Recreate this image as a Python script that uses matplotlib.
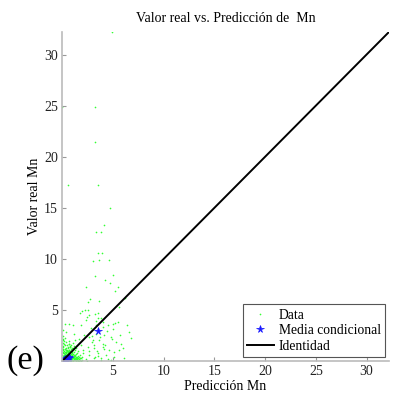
import matplotlib
matplotlib.use("Agg")
import matplotlib.pyplot as plt

plt.rcParams['font.family'] = ['Liberation Serif', 'DejaVu Serif']

# Observed Mn values versus predictions (x = prediction, y = real value)
outlier_x = [4.9, 0.0, 3.26, 3.26, 0.56, 3.5, 4.74, 4.15, 3.36, 3.85, 3.52, 3.92,
             3.03, 3.65, 4.57, 4.97, 4.24, 4.67, 3.26, 2.34, 5.46, 5.23, 2.76, 2.53,
             3.65, 5.56, 6.2, 3.26, 2.27, 1.94, 2.43, 3.58, 3.36, 3.98, 5.23, 6.38]
outlier_y = [32.2, 24.9, 24.9, 21.4, 17.2, 17.2, 15.0, 13.3, 12.6, 12.6, 10.6, 10.55,
             9.8, 9.9, 9.9, 8.4, 7.9, 7.6, 8.3, 7.3, 7.3, 6.9, 6.1, 5.8,
             5.9, 5.3, 6.2, 4.6, 5.0, 4.9, 4.3, 4.2, 3.95, 3.8, 3.7, 3.5]

mid_x = [3.49, 3.82, 3.32, 4.47, 5.46, 6.6, 4.15, 4.8, 3.65, 5.3, 5.8, 3.98, 4.64,
         5.13, 3.49, 4.3, 5.63, 6.1, 3.82, 4.8, 3.32, 4.4, 4.97, 3.98, 3.16,
         1.71, 2.53, 2.69, 2.37, 0.23, 0.72, 1.05, 1.88, 0.39, 1.21, 2.2, 2.69,
         1.65, 3.03, 0.07, 0.72, 1.88, 2.53, 3.09, 1.38, 2.04, 2.69, 3.19, 1.71,
         2.37, 2.9, 3.7, 4.1, 4.9, 5.7, 2.6, 3.1, 4.5, 5.1, 2.8, 3.4, 4.0, 6.0,
         2.1, 2.45, 3.55, 4.25, 5.0, 2.95, 3.85, 1.55, 6.75]
mid_y = [4.7, 4.2, 3.5, 3.5, 3.85, 2.9, 2.55, 2.4, 2.06, 1.9, 1.7, 1.4, 1.08,
         0.9, 0.75, 0.6, 1.08, 0.26, 0.1, 0.1, 2.7, 2.97, 3.1, 1.7, 1.57,
         4.7, 5.0, 4.5, 4.0, 3.6, 3.6, 3.5, 3.5, 2.9, 2.7, 2.55, 2.4,
         2.2, 2.1, 2.06, 1.7, 1.57, 1.4, 1.25, 1.25, 0.75, 0.59, 0.42, 0.26,
         0.17, 1.85, 2.35, 1.2, 2.15, 2.6, 0.95, 0.3, 0.2, 0.45, 3.2, 1.0, 3.3, 1.3,
         1.1, 0.05, 0.5, 1.6, 3.6, 2.5, 0.35, 0.05, 2.3]

dense_x = [0.02, 0.04, 0.06, 0.08, 0.1, 0.12, 0.14, 0.16, 0.18, 0.2, 0.22, 0.24,
           0.26, 0.28, 0.3, 0.32, 0.34, 0.36, 0.38, 0.4, 0.42, 0.44, 0.46, 0.48,
           0.5, 0.52, 0.54, 0.56, 0.58, 0.6, 0.62, 0.64, 0.66, 0.68, 0.7, 0.72,
           0.74, 0.76, 0.78, 0.8, 0.82, 0.84, 0.86, 0.88, 0.9, 0.92, 0.94, 0.96,
           0.98, 1.0, 1.03, 1.06, 1.09, 1.12, 1.15, 1.18, 1.21, 1.24, 1.27, 1.3,
           1.33, 1.36, 1.4, 1.44, 1.48, 1.52, 1.56, 1.6, 1.65, 1.7, 1.75, 1.8,
           1.85, 1.9, 1.95, 2.0,
           0.03, 0.05, 0.07, 0.04, 0.09, 0.06, 0.11, 0.08, 0.15, 0.13, 0.2, 0.18,
           0.25, 0.22, 0.3, 0.35, 0.28, 0.4, 0.45, 0.5, 0.55, 0.65, 0.7, 0.8,
           0.9, 1.0, 1.1, 1.2, 1.25,
           0.1, 0.2, 0.3, 0.4, 0.5, 0.6, 0.7, 0.8, 0.9, 1.0, 1.1, 1.2, 1.3, 1.4,
           1.5, 1.6, 1.7, 0.15, 0.25, 0.35, 0.45, 0.55, 0.65, 0.75, 0.85, 0.95,
           1.05, 1.15, 1.25, 1.35, 1.45, 1.55,
           0.05, 0.13, 0.21, 0.29, 0.37, 0.43, 0.51, 0.59, 0.67, 0.73, 0.81, 0.89,
           0.97, 1.07, 1.17, 1.28, 1.38, 1.49, 0.09, 0.19, 0.27, 0.33, 0.41, 0.49,
           0.57, 0.63, 0.71, 0.79, 0.87, 0.93, 1.01, 1.13, 0.12, 0.23, 0.31, 0.39,
           0.47, 0.53, 0.61, 0.69, 0.77, 0.83, 0.14, 0.17, 0.24, 0.36, 0.44, 0.58]
dense_y = [0.05, 0.12, 0.02, 0.2, 0.08, 0.3, 0.15, 0.04, 0.42, 0.22, 0.1, 0.55,
           0.33, 0.06, 0.7, 0.25, 0.45, 0.12, 0.9, 0.35, 0.6, 0.05, 0.28, 1.1,
           0.48, 0.18, 0.75, 0.38, 0.08, 1.3, 0.55, 0.22, 0.95, 0.42, 0.12, 0.68,
           1.5, 0.3, 0.85, 0.05, 0.5, 1.15, 0.2, 0.7, 0.38, 1.0, 0.1, 0.6,
           0.28, 0.85, 0.45, 0.15, 1.25, 0.6, 0.32, 0.9, 0.08, 0.5, 0.22, 1.05,
           0.7, 0.4, 0.12, 0.8, 0.3, 0.55, 0.05, 0.95, 0.2, 0.45, 0.1, 0.65,
           0.3, 0.05, 0.4, 0.15,
           0.6, 0.9, 1.2, 1.5, 1.8, 2.2, 2.5, 3.0, 1.0, 1.4, 1.7, 2.0,
           1.2, 0.8, 1.55, 1.9, 2.3, 1.25, 0.95, 1.6, 1.35, 1.7, 1.95, 1.4,
           1.6, 1.3, 1.75, 1.45, 2.1,
           0.02, 0.03, 0.02, 0.15, 0.08, 0.02, 0.25, 0.18, 0.03, 0.1, 0.02, 0.28,
           0.15, 0.02, 0.2, 0.1, 0.02, 0.35, 0.18, 0.3, 0.4, 0.25, 0.38, 0.55,
           0.35, 0.15, 0.3, 0.18, 0.35, 0.25, 0.45, 0.3,
           0.4, 0.5, 0.65, 0.15, 0.85, 0.2, 0.95, 0.3, 0.8, 0.5, 0.62, 0.12,
           0.52, 0.72, 0.48, 0.62, 0.35, 0.12, 0.75, 0.62, 0.48, 1.05, 0.78, 0.65,
           0.48, 1.12, 0.58, 0.95, 0.25, 0.82, 0.65, 0.4, 1.05, 0.85, 1.2, 0.55,
           0.72, 0.95, 0.88, 1.1, 1.35, 0.72, 0.25, 0.52, 0.68, 0.08, 0.15, 0.6]

# Conditional mean of the real value per prediction bin
mean_x = [0.02, 0.06, 0.1, 0.15, 0.2, 0.26, 0.32, 0.4, 0.48, 0.56, 0.64, 0.72, 3.52]
mean_y = [0.02, 0.04, 0.06, 0.09, 0.12, 0.15, 0.18, 0.22, 0.25, 0.29, 0.33, 0.36, 2.97]

lim = 32.2
ticks = [5, 10, 15, 20, 25, 30]

data_x = outlier_x + mid_x + dense_x
data_y = outlier_y + mid_y + dense_y

fig = plt.figure(figsize=(3.96, 3.96), dpi=100)
ax = fig.add_axes([0.157, 0.088, 0.825, 0.831])

ax.plot(data_x, data_y, '.', color=(0.2, 1.0, 0.2), markersize=2.4,
        markeredgewidth=0, label='Data')
ax.plot(mean_x, mean_y, '*', color=(0.1, 0.1, 1.0), markersize=5.5,
        markeredgewidth=0.5, label='Media condicional')
ax.plot([0, lim], [0, lim], '-', color='black', linewidth=1.4, label='Identidad')

ax.set_xlim(0, lim)
ax.set_ylim(0, lim)
ax.set_xticks(ticks)
ax.set_yticks(ticks)
ax.tick_params(direction='in', length=3, width=0.8, color='#999999',
               labelsize=10, labelcolor='#222222', pad=3)
for side in ('top', 'right'):
    ax.spines[side].set_visible(False)
for side in ('left', 'bottom'):
    ax.spines[side].set_color('#bbbbbb')
    ax.spines[side].set_linewidth(1.2)

ax.set_title('Valor real vs. Predicción de  Mn', fontsize=10, pad=7)
ax.set_xlabel('Predicción Mn', fontsize=10, labelpad=1)
ax.set_ylabel('Valor real Mn', fontsize=10, labelpad=2.5)

leg = ax.legend(loc='lower right', fontsize=9.8, frameon=True, fancybox=False,
                edgecolor='#555555', framealpha=1, borderpad=0.3,
                handlelength=2.0, handletextpad=0.35, labelspacing=0.2,
                borderaxespad=0.3, markerscale=1.0)
leg.get_frame().set_linewidth(0.8)

fig.text(0.064, 0.09, '(e)', fontsize=24.5, ha='center', va='center')

fig.savefig('out.png', dpi=100)
